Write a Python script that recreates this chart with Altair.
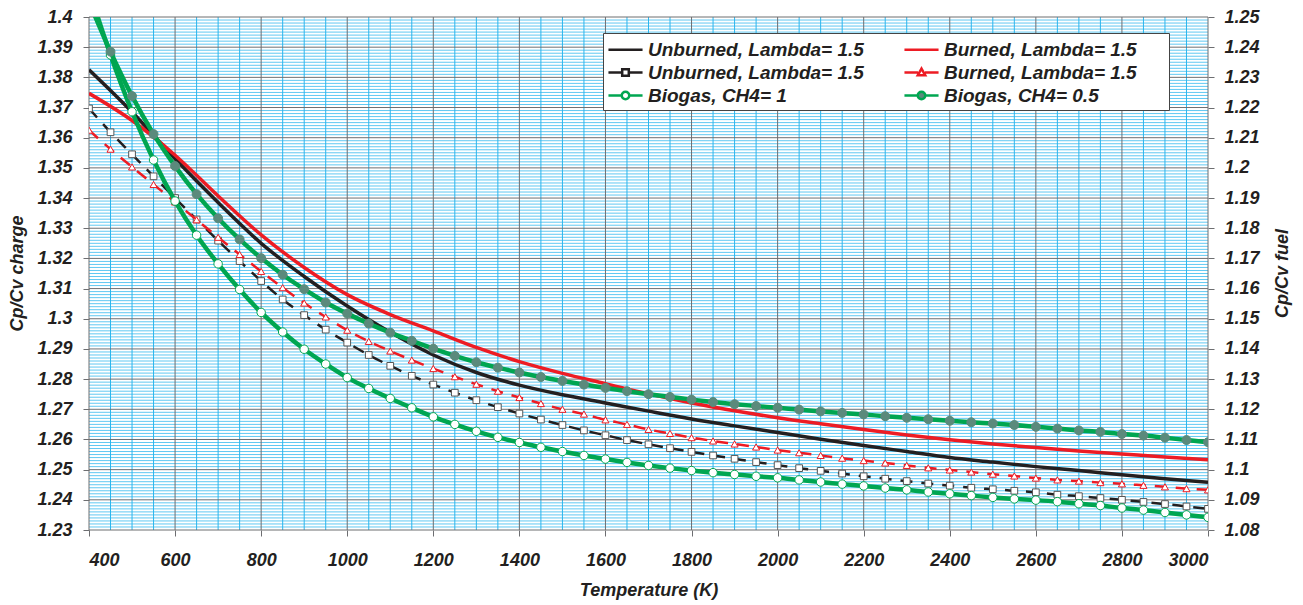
import altair as alt
import pandas as pd

# Temperature grids (K)
T50 = list(range(400, 3001, 50))
T100 = list(range(400, 3001, 100))

# Cp/Cv of the charge, solid curves (every 100 K)
unburned_solid = [1.3825, 1.3685, 1.3530, 1.3385, 1.3250, 1.3140, 1.3042, 1.2955, 1.2880,
                  1.2822, 1.2780, 1.2748, 1.2721, 1.2694, 1.2668, 1.2645, 1.2623, 1.2601,
                  1.2580, 1.2560, 1.2540, 1.2525, 1.2510, 1.2497, 1.2483, 1.2470, 1.2458]
burned_solid = [1.3747, 1.3657, 1.3542, 1.3407, 1.3278, 1.3170, 1.3080, 1.3014, 1.2960,
                1.2905, 1.2858, 1.2819, 1.2785, 1.2751, 1.2721, 1.2695, 1.2672, 1.2652,
                1.2633, 1.2615, 1.2599, 1.2585, 1.2573, 1.2562, 1.2552, 1.2542, 1.2533]

# Cp/Cv of the charge, marked dashed curves (every 50 K)
unburned_marked = [1.3697, 1.3618, 1.3545, 1.3472, 1.3400, 1.3329, 1.3259, 1.3191, 1.3125,
                   1.3064, 1.3012, 1.2964, 1.2921, 1.2880, 1.2844, 1.2811, 1.2782, 1.2755,
                   1.2730, 1.2707, 1.2686, 1.2666, 1.2648, 1.2630, 1.2614, 1.2598, 1.2584,
                   1.2571, 1.2559, 1.2547, 1.2536, 1.2525, 1.2515, 1.2505, 1.2496, 1.2487,
                   1.2478, 1.2470, 1.2462, 1.2454, 1.2447, 1.2440, 1.2435, 1.2430, 1.2425,
                   1.2417, 1.2412, 1.2406, 1.2400, 1.2393, 1.2386, 1.2378, 1.2370]
burned_marked = [1.3625, 1.3562, 1.3503, 1.3445, 1.3387, 1.3328, 1.3270, 1.3213, 1.3157,
                 1.3103, 1.3052, 1.3006, 1.2962, 1.2925, 1.2893, 1.2863, 1.2835, 1.2808,
                 1.2783, 1.2760, 1.2739, 1.2719, 1.2700, 1.2684, 1.2665, 1.2650, 1.2633,
                 1.2620, 1.2606, 1.2595, 1.2585, 1.2575, 1.2565, 1.2556, 1.2547, 1.2538,
                 1.2530, 1.2522, 1.2514, 1.2506, 1.2499, 1.2492, 1.2485, 1.2479, 1.2472,
                 1.2466, 1.2462, 1.2457, 1.2453, 1.2448, 1.2443, 1.2437, 1.2433]

# Cp/Cv of the fuel (right axis), every 50 K
biogas_ch4_1 = [1.2590, 1.2374, 1.2186, 1.2026, 1.1890, 1.1777, 1.1682, 1.1597, 1.1521,
                1.1456, 1.1399, 1.1350, 1.1305, 1.1269, 1.1236, 1.1205, 1.1175, 1.1150,
                1.1127, 1.1107, 1.1090, 1.1074, 1.1060, 1.1047, 1.1035, 1.1024, 1.1014,
                1.1005, 1.0997, 1.0990, 1.0984, 1.0978, 1.0973, 1.0966, 1.0959, 1.0952,
                1.0946, 1.0939, 1.0933, 1.0926, 1.0920, 1.0914, 1.0908, 1.0903, 1.0899,
                1.0894, 1.0887, 1.0881, 1.0873, 1.0866, 1.0858, 1.0850, 1.0842]
biogas_ch4_05 = [1.2550, 1.2385, 1.2238, 1.2112, 1.2006, 1.1913, 1.1833, 1.1763, 1.1701,
                 1.1646, 1.1598, 1.1554, 1.1517, 1.1484, 1.1454, 1.1427, 1.1401, 1.1377,
                 1.1356, 1.1338, 1.1322, 1.1307, 1.1294, 1.1282, 1.1271, 1.1260, 1.1250,
                 1.1241, 1.1232, 1.1224, 1.1217, 1.1211, 1.1205, 1.1199, 1.1193, 1.1188,
                 1.1183, 1.1177, 1.1172, 1.1167, 1.1162, 1.1157, 1.1153, 1.1148, 1.1142,
                 1.1136, 1.1130, 1.1125, 1.1118, 1.1113, 1.1106, 1.1098, 1.1091]

for s in (unburned_marked, burned_marked, biogas_ch4_1, biogas_ch4_05):
    assert len(s) == len(T50)
for s in (unburned_solid, burned_solid):
    assert len(s) == len(T100)

BLACK = "#231f20"
RED = "#ed1c24"
GREEN = "#00a651"
TEAL = "#5b8a7c"
GRID_BLUE = "#2bb6ee"
GRID_GRAY = "#6d6e71"
FONT = "Liberation Sans"

# Legend entries (label|style), listed column by column
legend_keys = ["Unburned, Lambda= 1.5|solid", "Unburned, Lambda= 1.5|marked",
               "Biogas, CH4= 1|marked", "Burned, Lambda= 1.5|solid",
               "Burned, Lambda= 1.5|marked", "Biogas, CH4= 0.5|marked"]
line_seg = "M-1.55,0H1.55"
gap_seg = "M-1.55,0H-0.32M0.32,0H1.55"
circle = "M0.34,0A0.34,0.34 0 1 1 -0.34,0A0.34,0.34 0 1 1 0.34,0Z"
legend_paths = [
    line_seg,
    gap_seg + "M-0.3,-0.3H0.3V0.3H-0.3Z",
    gap_seg + circle,
    line_seg,
    gap_seg + "M0,-0.36L0.34,0.26H-0.34Z",
    gap_seg + circle,
]
legend_strokes = [BLACK, BLACK, GREEN, RED, RED, GREEN]
legend_fills = ["white", "white", "white", "white", "white", TEAL]
# blank (non-whitespace) padding after the right-hand labels widens the box
pad = "\u2800" * 2

def frame(temps, values):
    return pd.DataFrame({"T": temps, "v": values})

x_enc = alt.X("T:Q", scale=alt.Scale(domain=[400, 3000], nice=False, zero=False),
              axis=alt.Axis(values=list(range(400, 3001, 200)), format="d",
                            title="Temperature  (K)", grid=False, domain=False,
                            tickSize=6, tickColor=GRID_GRAY, labelPadding=15,
                            titleX=559.5, titleY=60, titleBaseline="middle"))
y_charge = alt.Y("v:Q", scale=alt.Scale(domain=[1.23, 1.40], nice=False, zero=False),
                 axis=alt.Axis(values=[round(1.23 + 0.01 * i, 2) for i in range(18)],
                               format=".2~f", title="Cp/Cv charge", grid=False,
                               domain=False, tickSize=6, tickColor=GRID_GRAY,
                               labelPadding=11, titleAngle=270, titleX=-72, titleY=256,
                               titleBaseline="middle", titleAlign="center"))
y_fuel = alt.Y("v:Q", scale=alt.Scale(domain=[1.08, 1.25], nice=False, zero=False),
               axis=alt.Axis(orient="right",
                             values=[round(1.08 + 0.01 * i, 2) for i in range(18)],
                             format=".2~f", title="Cp/Cv fuel", grid=False,
                             domain=False, tickSize=6, tickColor=GRID_GRAY,
                             labelPadding=10, titleAngle=270, titleX=74, titleY=256,
                             titleBaseline="middle", titleAlign="center"))

# Grid: blue minor lines every 50 K / 0.001, darker major lines every 200 K / 0.01
minor_T = [t for t in range(450, 3000, 50) if t % 200]
major_T = list(range(400, 3001, 200))
minor_v = [round(1.23 + 0.001 * i, 3) for i in range(171) if i % 10]
major_v = [round(1.23 + 0.01 * i, 2) for i in range(18)]

grid = alt.layer(
    alt.Chart(pd.DataFrame({"T": minor_T})).mark_rule(color=GRID_BLUE, strokeWidth=1).encode(x=x_enc),
    alt.Chart(pd.DataFrame({"v": minor_v})).mark_rule(color=GRID_BLUE, strokeWidth=0.75).encode(y=y_charge),
    alt.Chart(pd.DataFrame({"T": major_T})).mark_rule(color=GRID_GRAY, strokeWidth=1).encode(x=x_enc),
    alt.Chart(pd.DataFrame({"v": major_v})).mark_rule(color=GRID_GRAY, strokeWidth=1).encode(y=y_charge),
)

def curve(df, y, color, width, dash=None):
    kw = dict(color=color, strokeWidth=width, interpolate="monotone", clip=True)
    if dash:
        kw["strokeDash"] = dash
    return alt.Chart(df).mark_line(**kw).encode(x=x_enc, y=y)

def markers(df, y, shape, size, fill, stroke, sw):
    return alt.Chart(df).mark_point(shape=shape, size=size, filled=True, fill=fill,
                                    stroke=stroke, strokeWidth=sw, opacity=1,
                                    clip=True).encode(x=x_enc, y=y)

ub_m = frame(T50, unburned_marked)
b_m = frame(T50, burned_marked)
charge = alt.layer(
    grid,
    curve(ub_m, y_charge, BLACK, 2.5, [12, 9]),
    markers(ub_m, y_charge, "square", 45, "white", "#555555", 1),
    curve(b_m, y_charge, RED, 2.5, [12, 9]),
    markers(b_m, y_charge, "triangle-up", 50, "white", RED, 1),
    curve(frame(T100, unburned_solid), y_charge, BLACK, 3.5),
    curve(frame(T100, burned_solid), y_charge, RED, 3.5),
)

g1 = frame(T50, biogas_ch4_1)
g05 = frame(T50, biogas_ch4_05)
fuel = alt.layer(
    curve(g1, y_fuel, GREEN, 4.5),
    markers(g1, y_fuel, "circle", 72, "white", GREEN, 1),
    curve(g05, y_fuel, GREEN, 4.5),
    markers(g05, y_fuel, "circle", 80, TEAL, TEAL, 1),
)

# Legend built from the series keys (this layer draws no marks itself)
leg = alt.Legend(title=" ", titleOrient="left", titlePadding=6, orient="none",
                 legendX=514, legendY=16, columns=2, columnPadding=35, rowPadding=-2,
                 padding=4, strokeColor="#444444", fillColor="white",
                 symbolSize=484, symbolStrokeWidth=2.5, labelFont=FONT, labelFontSize=19,
                 labelFontStyle="italic", labelFontWeight="bold", labelColor=BLACK,
                 labelOffset=10, labelLimit=400,
                 labelExpr="split(datum.label, '|')[0] + (indexof(datum.label, 'Burned') == 0 ? '" + pad + "' : '')")
legend_layer = alt.Chart(pd.DataFrame({"series": legend_keys})).transform_filter(
    "false").mark_point(filled=True, strokeWidth=2.5, opacity=1).encode(
    shape=alt.Shape("series:N", scale=alt.Scale(domain=legend_keys, range=legend_paths), legend=leg),
    stroke=alt.Stroke("series:N", scale=alt.Scale(domain=legend_keys, range=legend_strokes), legend=leg),
    fill=alt.Fill("series:N", scale=alt.Scale(domain=legend_keys, range=legend_fills), legend=leg),
)

chart = alt.layer(charge, fuel, legend_layer).resolve_scale(y="independent").properties(
    width=1119, height=513,
    padding={"left": 89, "top": 17, "right": 95, "bottom": 75},
    autosize=alt.AutoSizeParams(type="none"),
    background="white",
).configure_view(stroke=None).configure_axis(
    labelFont=FONT, labelFontSize=18, labelFontStyle="italic", labelFontWeight="bold",
    labelColor=BLACK, titleFont=FONT, titleFontSize=18, titleFontStyle="italic",
    titleFontWeight="bold", titleColor=BLACK,
)

chart.save("out.html", embed_options={"renderer": "svg", "actions": False})
